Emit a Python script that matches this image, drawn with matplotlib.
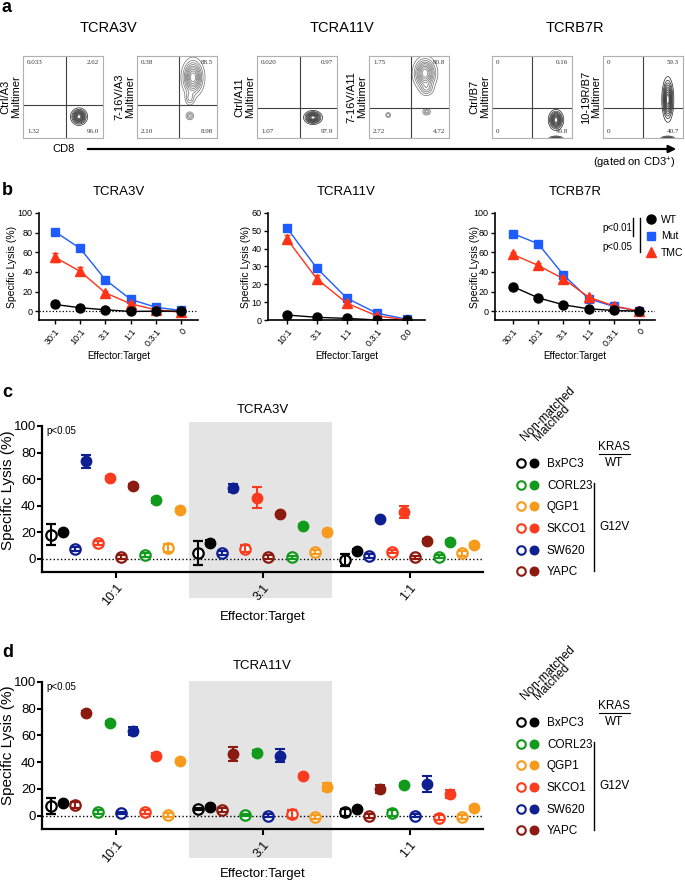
import numpy as np
import matplotlib
matplotlib.use("Agg")
import matplotlib.pyplot as plt
from matplotlib.lines import Line2D
from matplotlib.legend_handler import HandlerTuple

plt.rcParams['font.family'] = ['Liberation Sans', 'DejaVu Sans']
plt.rcParams['mathtext.fontset'] = 'custom'
plt.rcParams['mathtext.rm'] = 'Liberation Sans'
plt.rcParams['mathtext.it'] = 'Liberation Sans:italic'

# ---------------- data ----------------
# panel a (flow cytometry)
flow_groups = ['TCRA3V', 'TCRA11V', 'TCRB7R']
flow_ylabels = ['Ctrl/A3', '7-16V/A3', 'Ctrl/A11', '7-16V/A11', 'Ctrl/B7', '10-19R/B7']
flow_quadrants = [['0.033', '2.62', '1.32', '96.0'],
                  ['0.38', '88.5', '2.10', '8.98'],
                  ['0.020', '0.97', '1.07', '97.9'],
                  ['1.75', '90.8', '2.72', '4.72'],
                  ['0', '0.16', '0', '99.8'],
                  ['0', '59.3', '0', '40.7']]
flow_gate_x = [0.54, 0.52, 0.54, 0.53, 0.50, 0.50]
flow_gate_y = [0.40, 0.40, 0.36, 0.37, 0.37, 0.37]
# population centres (x, y, sx, sy, weight) in gate-relative units
flow_pops = [
    [(0.70, 0.26, 0.05, 0.05, 1.0)],
    [(0.70, 0.74, 0.07, 0.115, 1.0), (0.66, 0.48, 0.035, 0.05, 0.3), (0.66, 0.27, 0.03, 0.03, 0.35)],
    [(0.70, 0.25, 0.055, 0.04, 1.0)],
    [(0.70, 0.79, 0.075, 0.10, 1.0), (0.72, 0.60, 0.05, 0.05, 0.3),
     (0.24, 0.28, 0.02, 0.02, 0.3), (0.72, 0.32, 0.03, 0.025, 0.35)],
    [(0.80, 0.22, 0.045, 0.06, 1.0), (0.80, -0.03, 0.05, 0.025, 1.0)],
    [(0.81, 0.47, 0.035, 0.13, 1.0), (0.81, -0.03, 0.05, 0.025, 1.0)],
]
flow_dark = [True, False, True, False, True, True]

# panel b
b_titles = ['TCRA3V', 'TCRA11V', 'TCRB7R']
b_ticks_a3 = ['30:1', '10:1', '3:1', '1:1', '0.3:1', '0']
b_ticks_a11 = ['10:1', '3:1', '1:1', '0.3:1', '0:0']
b_ticks_b7 = ['30:1', '10:1', '3:1', '1:1', '0.3:1', '0']
a3_wt = [6.8, 3.5, 1.4, -0.3, 0.0, 0.0]
a3_mut = [81, 64, 32, 12, 4, 0.7]
a3_tmc = [55, 40.5, 18.7, 7.5, 1.4, -1]
a3_tmc_err = [4.5, 4, 2, 1, 0.5, 0.5]
a11_wt = [2.8, 1.5, 0.9, 0.0, 0.0]
a11_mut = [51.6, 29, 12.2, 3.8, 0.4]
a11_tmc = [45.4, 23, 9.4, 2.3, 0.0]
a11_tmc_err = [2.5, 2.5, 1.5, 0.5, 0.2]
b7_wt = [25, 13.6, 6.5, 2.4, 0.7, 0.0]
b7_mut = [79, 68.7, 37, 12.6, 4.8, 0.0]
b7_tmc = [57.8, 46.6, 33, 14.3, 5.4, 0.0]
b7_tmc_err = [2, 2.5, 2, 1.5, 1, 0.3]

# panels c/d
cell_lines = ['BxPC3', 'CORL23', 'QGP1', 'SKCO1', 'SW620', 'YAPC']
cell_colors = ['#000000', '#129a1c', '#f89a1c', '#fb3b1e', '#0e1f91', '#8b1a10']
ratios = ['10:1', '3:1', '1:1']

c_order = ['BxPC3', 'SW620', 'SKCO1', 'YAPC', 'CORL23', 'QGP1']
c_nonmatched = [[18, 7, 12, 1.5, 2.5, 8],
                [4.5, 4, 7.5, 1.5, 1, 5],
                [-1, 2.3, 5.3, 1, 1.5, 4]]
c_nonmatched_err = [[8, 1.5, 1.5, 1.5, 1.5, 3],
                    [9, 1.5, 2.5, 1.5, 1, 1.5],
                    [4.5, 1.5, 1, 1, 1, 2]]
c_matched = [[20, 73.5, 61, 55, 44, 37],
             [12, 53.5, 46, 33.5, 25, 20.5],
             [6, 30, 35, 13, 12.5, 10]]
c_matched_err = [[1, 5, 1.5, 1.5, 2, 1.5],
                 [2, 3, 8, 1, 1, 1.5],
                 [1, 1, 4.5, 1.5, 1.5, 1.5]]

d_order = ['BxPC3', 'YAPC', 'CORL23', 'SW620', 'SKCO1', 'QGP1']
d_nonmatched = [[7, 8, 2.5, 2, 3, 0.5],
                [5, 4.5, 0.5, 0, 1, -1],
                [2.5, 0, 2, 0, -1.5, -1]]
d_nonmatched_err = [[6, 2, 1.5, 1, 1.5, 1.5],
                    [1, 1.5, 1, 1, 3, 1.5],
                    [2.5, 1.5, 2, 1, 2, 1.5]]
d_matched = [[9.5, 77, 69, 63, 45, 41],
             [6.5, 46, 47, 45, 30, 21.5],
             [5, 20, 23, 24, 16, 6]]
d_matched_err = [[1, 1.5, 1.5, 3, 1.5, 1.5],
                 [1, 5, 2, 5, 1.5, 3],
                 [1, 3, 1.5, 6, 3, 1.5]]

# ---------------- layout helpers ----------------
W, H = 685, 882
fig = plt.figure(figsize=(W / 100, H / 100), dpi=100)


def add_ax(x0, y0, x1, y1):
    return fig.add_axes([x0 / W, 1 - y1 / H, (x1 - x0) / W, (y1 - y0) / H])


def ftext(x, y, s, **kw):
    return fig.text(x / W, 1 - y / H, s, **kw)


def fline(xs, ys, **kw):
    fig.add_artist(Line2D([x / W for x in xs], [1 - y / H for y in ys],
                          transform=fig.transFigure, **kw))


# ---------------- panel a ----------------
ftext(2, 12, 'a', fontsize=13, fontweight='bold')
group_cx = [108, 342, 575]
for t, cx in zip(flow_groups, group_cx):
    ftext(cx, 28, t, fontsize=10.5, ha='center', va='center')

box_x0 = [23, 137, 257, 369, 492, 603]
box_w = 80
by0, by1 = 56, 138
gx = np.linspace(0, 1, 260)
GX, GY = np.meshgrid(gx, gx)
for i in range(6):
    ax = add_ax(box_x0[i], by0, box_x0[i] + box_w, by1)
    Z = np.zeros_like(GX)
    for (cx, cy, sx, sy, w) in flow_pops[i]:
        Z += w * np.exp(-0.5 * (((GX - cx) / sx) ** 2 + ((GY - cy) / sy) ** 2))
    lv = np.array([0.1, 0.2, 0.3, 0.4, 0.5, 0.6, 0.7, 0.8, 0.9]) * Z.max()
    col = '#353535' if flow_dark[i] else '#7a7a7a'
    ax.contour(GX, GY, Z, levels=lv, colors=col, linewidths=0.55)
    ax.axvline(flow_gate_x[i], color='#404040', lw=0.8)
    ax.axhline(flow_gate_y[i], color='#404040', lw=0.8)
    ax.set_xlim(0, 1)
    ax.set_ylim(0, 1)
    ax.set_xticks([])
    ax.set_yticks([])
    for s in ax.spines.values():
        s.set_color('#b0b0b0')
        s.set_linewidth(0.8)
    q = flow_quadrants[i]
    kw = dict(fontsize=5, family='Liberation Serif', color='#333333', transform=ax.transAxes, va='center')
    ax.text(0.05, 0.92, q[0], ha='left', **kw)
    ax.text(0.95, 0.92, q[1], ha='right', **kw)
    ax.text(0.05, 0.08, q[2], ha='left', **kw)
    ax.text(0.95, 0.08, q[3], ha='right', **kw)
    ftext(box_x0[i] - 12, (by0 + by1) / 2, flow_ylabels[i] + '\nMultimer', rotation=90,
          ha='center', va='center', fontsize=8, linespacing=1.1)

ftext(64, 149, 'CD8', fontsize=8, ha='center', va='center')
fig.add_artist(matplotlib.patches.FancyArrowPatch((85 / W, 1 - 149 / H), (679 / W, 1 - 149 / H),
                                                  transform=fig.transFigure, arrowstyle='-|>',
                                                  mutation_scale=11, lw=1.6, color='black'))
ftext(634, 163, '(gated on CD3$^{+}$)', fontsize=8, ha='center', va='center')

# ---------------- panel b ----------------
ftext(2, 195, 'b', fontsize=13, fontweight='bold')
b_specs = [
    ((39, 213, 198, 320), (-0.63, 5.67), (-9, 100), [0, 20, 40, 60, 80, 100],
     b_ticks_a3, a3_wt, a3_mut, a3_tmc, a3_tmc_err, 12),
    ((268, 213, 425, 320), (-0.63, 4.6), (0, 60), [0, 10, 20, 30, 40, 50, 60],
     b_ticks_a11, a11_wt, a11_mut, a11_tmc, a11_tmc_err, 246),
    ((495, 213, 655, 320), (-0.71, 5.63), (-9, 100), [0, 20, 40, 60, 80, 100],
     b_ticks_b7, b7_wt, b7_mut, b7_tmc, b7_tmc_err, 475),
]
blue_b = '#1f5cff'
red_b = '#ff3318'
b_axes = []
for k, (box, xl, yl, yt, ticks, wt, mut, tmc, tmc_err, ylx) in enumerate(b_specs):
    ax = add_ax(*box)
    b_axes.append(ax)
    x = np.arange(len(ticks))
    ax.axhline(0, color='black', ls=':', lw=0.9, zorder=1)
    ax.plot(x, mut, color=blue_b, marker='s', ms=6, lw=1.0, zorder=3)
    ax.errorbar(x, tmc, yerr=tmc_err, color=red_b, marker='^', ms=6.5, lw=1.0,
                capsize=2.5, elinewidth=1.0, zorder=4)
    ax.plot(x, wt, color='black', marker='o', ms=6.5, lw=1.0, zorder=5)
    ax.set_xlim(*xl)
    ax.set_ylim(*yl)
    ax.set_yticks(yt)
    ax.set_xticks(x)
    ax.set_xticklabels(ticks, rotation=50, ha='right', rotation_mode='anchor', fontsize=6.5)
    ax.tick_params(axis='y', labelsize=6.5, length=3, width=1.0, pad=1.5)
    ax.tick_params(axis='x', length=3, width=1.0, pad=2)
    for s in ['top', 'right']:
        ax.spines[s].set_visible(False)
    for s in ['left', 'bottom']:
        ax.spines[s].set_linewidth(1.2)
    cxp = (box[0] + box[2]) / 2
    ftext(cxp, 192, b_titles[k], fontsize=9.5, ha='center', va='center')
    ftext(cxp, 356, 'Effector:Target', fontsize=7, ha='center', va='center')
    ftext(ylx, (box[1] + box[3]) / 2, 'Specific Lysis (%)', fontsize=7.5, rotation=90,
          ha='center', va='center')

ax3 = b_axes[2]
h_wt = Line2D([], [], color='black', marker='o', ls='none', ms=6.5)
h_mut = Line2D([], [], color=blue_b, marker='s', ls='none', ms=6)
h_tmc = Line2D([], [], color=red_b, marker='^', ls='none', ms=6.5)
ax3.legend([h_wt, h_mut, h_tmc], ['WT', 'Mut', 'TMC'], loc='upper left',
           bbox_to_anchor=(646 / W, 1 - 215 / H), bbox_transform=fig.transFigure,
           frameon=False, fontsize=7.5, handlelength=1.0, handletextpad=0.45,
           labelspacing=0.6, borderpad=0, borderaxespad=0)
ftext(602, 228, 'p<0.01', fontsize=7, va='center')
ftext(602, 247, 'p<0.05', fontsize=7, va='center')
fline([633, 633], [218, 236], color='black', lw=1.0)
fline([640, 640], [218, 252], color='black', lw=1.0)

# ---------------- panels c & d ----------------
step = 0.0795


def group_panel(label, ly, box, shade, title, order, nm, nm_err, m, m_err, ylab_y, xlab_y,
                leg_top, hdr_y):
    ftext(2, ly, label, fontsize=13, fontweight='bold')
    ax = add_ax(*box)
    ax.set_facecolor('none')
    hpx = box[3] - box[1]
    ax.axvspan(0.5, 1.47, ymin=(box[3] - shade[1]) / hpx, ymax=(box[3] - shade[0]) / hpx,
               color='#e4e4e4', lw=0, zorder=0, clip_on=False)
    ax.axhline(0, color='black', ls=':', lw=1.0, zorder=1)
    nm_a = np.array(nm)
    nm_e = np.array(nm_err)
    m_a = np.array(m)
    m_e = np.array(m_err)
    r = np.arange(len(ratios))
    for k, name in enumerate(order):
        col = cell_colors[cell_lines.index(name)]
        xo = r + (2 * k - 5.5) * step
        xf = r + (2 * k + 1 - 5.5) * step
        ax.errorbar(xo, nm_a[:, k], yerr=nm_e[:, k], fmt='o', ms=7.5, mfc='white', mec=col,
                    mew=1.6, ecolor=col, elinewidth=1.5, capsize=3.5, capthick=1.5,
                    barsabove=True, zorder=3)
        ax.errorbar(xf, m_a[:, k], yerr=m_e[:, k], fmt='o', ms=7.5, mfc=col, mec=col,
                    ecolor=col, elinewidth=1.5, capsize=3.5, capthick=1.5,
                    barsabove=True, zorder=3)
    ax.set_xlim(-0.5, 2.5)
    ax.set_ylim(-10, 100)
    ax.set_yticks([0, 20, 40, 60, 80, 100])
    ax.set_xticks(r)
    ax.set_xticklabels(ratios, rotation=50, ha='right', rotation_mode='anchor', fontsize=9)
    ax.tick_params(axis='y', labelsize=9.5, length=3.5, width=1.5, pad=1)
    ax.tick_params(axis='x', length=4, width=1.5, pad=3)
    for s in ['top', 'right']:
        ax.spines[s].set_visible(False)
    for s in ['left', 'bottom']:
        ax.spines[s].set_linewidth(1.6)
    cxp = (box[0] + box[2]) / 2
    ftext(cxp, box[1] - 16, title, fontsize=9.5, ha='center', va='center')
    ftext(cxp, xlab_y, 'Effector:Target', fontsize=9.5, ha='center', va='center')
    ftext(8, ylab_y, 'Specific Lysis (%)', fontsize=11, rotation=90, ha='center', va='center')
    ftext(46, box[1] + 5, 'p<0.05', fontsize=7, ha='left', va='center')

    # legend
    handles = []
    for name, col in zip(cell_lines, cell_colors):
        ho = Line2D([], [], ls='none', marker='o', ms=7.5, mfc='white', mec=col, mew=1.5)
        hf = Line2D([], [], ls='none', marker='o', ms=7.5, mfc=col, mec=col)
        handles.append((ho, hf))
    ax.legend(handles, cell_lines, handler_map={tuple: HandlerTuple(ndivide=None, pad=0)},
              loc='upper left', bbox_to_anchor=(514.5 / W, 1 - leg_top / H),
              bbox_transform=fig.transFigure, frameon=False, fontsize=8.5,
              handlelength=2.2, handletextpad=0.55, labelspacing=0.82, borderpad=0,
              borderaxespad=0, markerscale=0.82)
    row0 = leg_top + 5
    ftext(525, hdr_y, 'Non-matched', fontsize=8.5, rotation=45, rotation_mode='anchor',
          ha='left', va='baseline')
    ftext(538, hdr_y, 'Matched', fontsize=8.5, rotation=45, rotation_mode='anchor',
          ha='left', va='baseline')
    ftext(614, row0 - 16, 'KRAS', fontsize=8.5, ha='center', va='center')
    fline([598.5, 629.5], [row0 - 9.5, row0 - 9.5], color='black', lw=0.8)
    ftext(614, row0, 'WT', fontsize=8.5, ha='center', va='center')
    ftext(614, row0 + 64, 'G12V', fontsize=8.5, ha='center', va='center')
    fline([594, 594], [row0 + 20, row0 + 108], color='black', lw=1.0)


group_panel('c', 397, (42, 426, 483, 572), (422, 598), 'TCRA3V', c_order,
            c_nonmatched, c_nonmatched_err, c_matched, c_matched_err, 490, 617, 458, 441)
group_panel('d', 657, (42, 682, 483, 829), (681, 858), 'TCRA11V', d_order,
            d_nonmatched, d_nonmatched_err, d_matched, d_matched_err, 745, 874, 717, 700)

fig.savefig('out.png', dpi=100)
